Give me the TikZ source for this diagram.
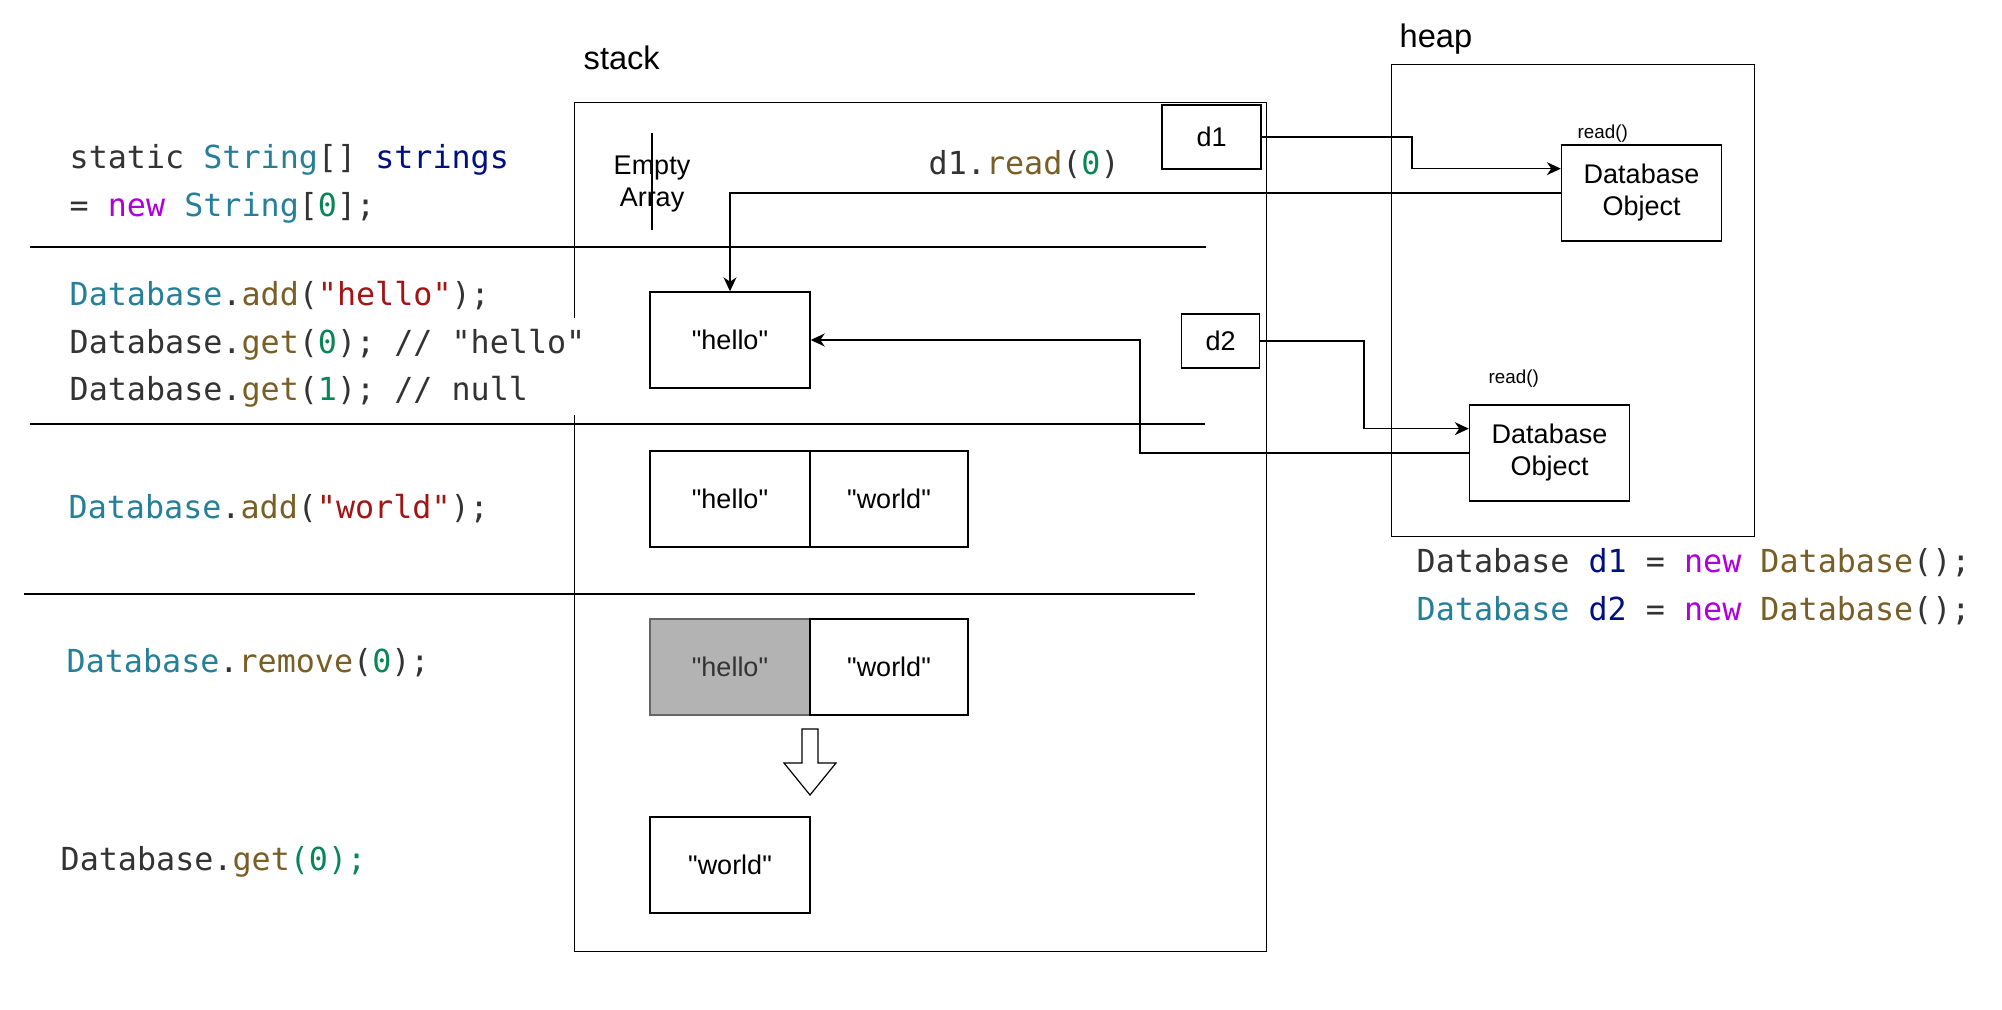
\documentclass[tikz,border=0pt]{standalone}
\usepackage{fontspec}
\setmainfont{Liberation Sans}
\newfontfamily\codefont{DejaVu Sans Mono}
\usetikzlibrary{arrows.meta,calc}
\definecolor{cplain}{HTML}{333333}
\definecolor{ctype}{HTML}{267F99}
\definecolor{cvar}{HTML}{001080}
\definecolor{ckw}{HTML}{AF00DB}
\definecolor{cfun}{HTML}{795E26}
\definecolor{cnum}{HTML}{098658}
\definecolor{cstr}{HTML}{A31515}
\definecolor{cgray}{HTML}{B3B3B3}
\definecolor{cgrayline}{HTML}{666666}
\definecolor{cgraytext}{HTML}{333333}
\newcommand\cT[1]{\textcolor{ctype}{#1}}
\newcommand\cV[1]{\textcolor{cvar}{#1}}
\newcommand\cK[1]{\textcolor{ckw}{#1}}
\newcommand\cF[1]{\textcolor{cfun}{#1}}
\newcommand\cN[1]{\textcolor{cnum}{#1}}
\newcommand\cS[1]{\textcolor{cstr}{#1}}
\newcommand\qq[1]{\textquotedbl #1\textquotedbl}
\begin{document}
\begin{tikzpicture}[x=0.5pt,y=-0.5pt,line width=0.7pt,
  cell/.style={draw, minimum width=80pt, minimum height=48pt, inner sep=0pt,
    font=\fontsize{13.5}{16}\selectfont, align=center},
  ref/.style={draw, inner sep=0pt, font=\fontsize{13.5}{16}\selectfont},
  code/.style={anchor=mid west, inner sep=0pt, font=\codefont\fontsize{15.86}{19}\selectfont, text=cplain},
  title/.style={anchor=base west, inner sep=0pt, font=\fontsize{16.3}{19}\selectfont},
  small/.style={anchor=west, inner sep=0pt, font=\fontsize{9.4}{11}\selectfont},
  arr/.style={-{Stealth[length=7pt,width=6.5pt,inset=2.2pt]}}]
\useasboundingbox (0,0) rectangle (2002,1010);

% containers
\node[title] (stacklbl) at (583,70) {stack};
\node[draw, anchor=north west, minimum width=346pt, minimum height=424.5pt, inner sep=0pt] (stack) at (574,102) {};
\node[title] (heaplbl) at (1399,48) {heap};
\node[draw, anchor=north west, minimum width=181.5pt, minimum height=236pt, inner sep=0pt] (heap) at (1391,64) {};

% separators
\draw (30,247) -- (1206,247);
\draw (30,424) -- (1205,424);
\draw (24,594) -- (1195,594);

% code on the left
\node[code] (c1) at (69,163) {static \cT{String}[] \cV{strings}};
\node[code] (c2) at (69,211) {= \cK{new} \cT{String}[\cN{0}];};
\node[code] (c3) at (69,300) {\cT{Database}.\cF{add}(\cS{"hello"});};
\fill[white] (568,318) rectangle (580,415);
\node[code] (c4) at (69,348) {Database.\cF{get}(\cN{0}); // "hello"};
\node[code] (c5) at (69,395) {Database.\cF{get}(\cN{1}); // null};
\node[code] (c6) at (68,513) {\cT{Database}.\cF{add}(\cS{"world"});};
\node[code] (c7) at (66,667) {\cT{Database}.\cF{remove}(\cN{0});};
\node[code] (c8) at (60,865) {Database.\cF{get}\cN{(0);}};

% stack contents
\node[align=center, inner sep=0pt, font=\fontsize{13.5}{16}\selectfont] (empty) at (652,184) {Empty\\Array};
\draw (652,133) -- (652,230);
\node[code] (read) at (928,169) {d1.\cF{read}(\cN{0})};
\node[ref, minimum width=49.5pt, minimum height=32pt] (d1) at (1211.5,137) {d1};
\node[ref, minimum width=39pt, minimum height=27pt] (d2) at (1220.5,341) {d2};

\node[cell] (hello) at (730,340) {\qq{hello}};
\node[cell] (h2) at (730,499) {\qq{hello}};
\node[cell, minimum width=79pt] (w2) at (889,499) {\qq{world}};
\node[cell, fill=cgray, draw=cgrayline, text=cgraytext] (h3) at (730,667) {\qq{hello}};
\node[cell, minimum width=79pt] (w3) at (889,667) {\qq{world}};
\node[cell] (w4) at (730,865) {\qq{world}};
\draw[line width=0.6pt] (802,729) -- (818,729) -- (818,763) -- (836,763) -- (810,795)
  -- (784,763) -- (802,763) -- cycle;

% heap contents
\node[cell] (dbo1) at (1641.5,193) {Database\\Object};
\node[small] (r1) at (1577,134) {read()};
\node[cell] (dbo2) at (1549.5,453) {Database\\Object};
\node[small] (r2) at (1488,379) {read()};

% connectors
\coordinate (e1) at ($(dbo1.north west)!0.25!(dbo1.south west)$);
\coordinate (e2) at ($(dbo2.north west)!0.25!(dbo2.south west)$);
\draw[arr] (d1.east) -- (1412,137) |- (e1);
\draw[arr] (dbo1.west) -| (hello.north);
\draw[arr] (d2.east) -- (1364,341) |- (e2);
\draw[arr] (dbo2.west) -- (1140,453) |- (hello.east);

% code under the heap
\node[code] (c9) at (1416,567) {Database \cV{d1} = \cK{new} \cF{Database}();};
\node[code] (c10) at (1416,615) {\cT{Database} \cV{d2} = \cK{new} \cF{Database}();};
\end{tikzpicture}
\end{document}
